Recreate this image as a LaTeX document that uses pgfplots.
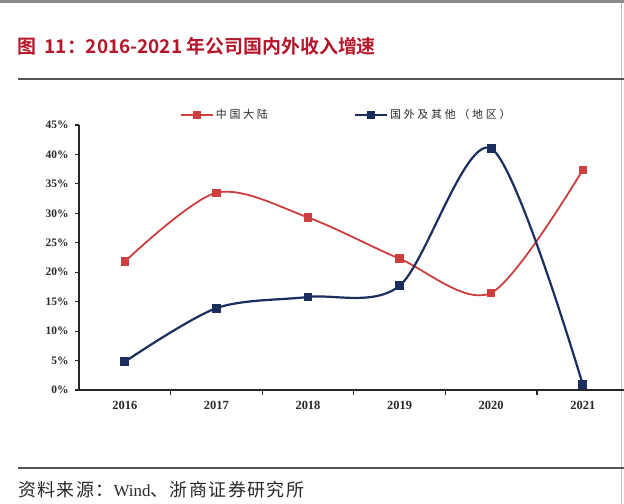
\documentclass[border=0pt]{standalone}
\usepackage{pgfplots}
\pgfplotsset{compat=1.18}
\usepackage{fontspec}
\setmainfont{Liberation Serif}
\newfontfamily\cjk{Noto Sans CJK SC}
\newfontfamily\cjkfoot[LetterSpace=8]{Noto Sans CJK SC}
\newfontfamily\cjkbold{Noto Sans CJK SC Bold}
\newfontfamily\cjkleg[LetterSpace=25]{Noto Sans CJK SC}
\definecolor{titlered}{RGB}{180,22,42}
\definecolor{redline}{RGB}{205,62,62}
\definecolor{blueline}{RGB}{28,45,95}
\definecolor{txt}{RGB}{40,40,40}
\definecolor{rule}{RGB}{85,85,85}
\begin{document}
\begin{tikzpicture}
\fill[white] (0,0) rectangle (624bp,504bp);
\useasboundingbox (0,0) rectangle (624bp,504bp);
\fill[black!45] (0,501bp) rectangle (624bp,504bp);
\draw[black!25, line width=1bp] (621bp,0) -- (621bp,501bp);
% title
\node[anchor=west, text=titlered, font=\cjkbold\fontsize{19}{22}\selectfont, inner sep=0pt] at (17bp,458bp) {图\ \ 11：2016-2021 年公司国内外收入增速};
\draw[rule, line width=1.3bp] (18bp,425bp) -- (624bp,425bp);
\draw[rule, line width=1.3bp] (18bp,36bp) -- (624bp,36bp);
\node[anchor=west, text=txt, inner sep=0pt] at (18bp,14bp) {{\cjkfoot\fontsize{18}{20}\selectfont 资料来源：}{\fontsize{17}{19}\selectfont Wind}{\cjkfoot\fontsize{18}{20}\selectfont 、浙商证券研究所}};
\begin{axis}[
  at={(79bp,114bp)}, anchor=south west,
  scale only axis, width=545bp, height=265bp,
  xmin=-0.5, xmax=5.45, ymin=0, ymax=45,
  axis x line*=bottom, axis y line*=left,
  axis line style={line width=1.2bp, color=black!85},
  xtick={0,1,2,3,4,5},
  xticklabels={2016,2017,2018,2019,2020,2021},
  major x tick style={draw=none},
  minor xtick={0.5,1.5,2.5,3.5,4.5},
  minor tick length=5bp,
  minor x tick style={line width=1.1bp, color=black!85},
  ytick={0,5,...,45},
  yticklabel={\pgfmathprintnumber{\tick}\%},
  tick align=outside,
  major tick length=4bp,
  major y tick style={line width=1.1bp, color=black!85},
  xticklabel style={font=\bfseries\fontsize{12.5}{14}\selectfont, text=txt, yshift=-4bp},
  yticklabel style={font=\bfseries\fontsize{11.5}{13}\selectfont, text=txt, xshift=-3bp},
  /pgf/number format/assume math mode=true,
  legend columns=2,
  legend style={draw=none, fill=none, inner sep=0pt,
    at={(axis description cs:0.185,1.038)}, anchor=west,
    font=\cjkleg\fontsize{11}{13}\selectfont, text=txt,
    /tikz/every even column/.append style={column sep=84bp}},
  legend image code/.code={\draw[mark repeat=2,mark phase=2] plot coordinates {(0bp,0bp)(16bp,0bp)(32bp,0bp)};},
]
\addplot[smooth, color=redline, line width=1.8bp, mark=square*, mark size=3.3bp, mark options={fill=redline, draw=redline}]
  coordinates {(0,21.8) (1,33.5) (2,29.3) (3,22.3) (4,16.5) (5,37.4)};
\addlegendentry{中国大陆}
\addplot[smooth, color=blueline, line width=2.2bp, mark=square*, mark size=3.3bp, mark options={fill=blueline, draw=blueline}]
  coordinates {(0,4.8) (1,13.9) (2,15.8) (3,17.7) (4,41.0) (5,0.9)};
\addlegendentry{国外及其他（地区）}
\end{axis}
\end{tikzpicture}
\end{document}
